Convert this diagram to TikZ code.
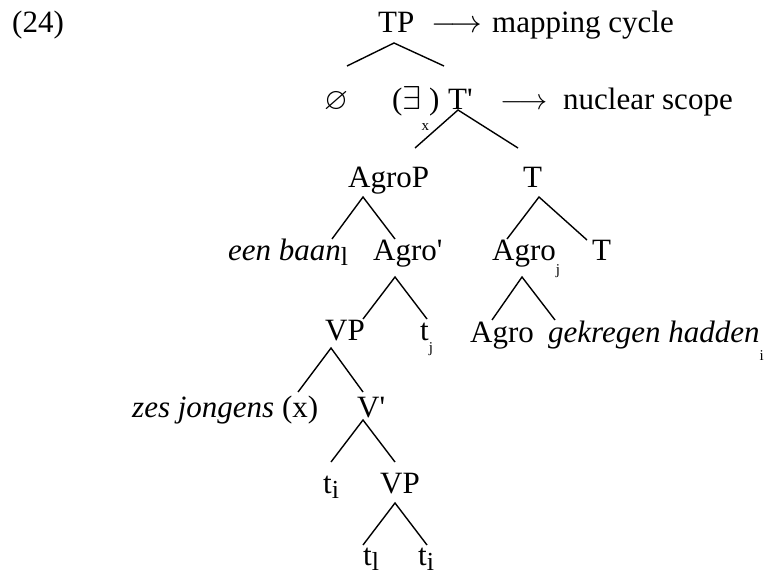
\documentclass[tikz,border=0pt]{standalone}
\usepackage{amssymb}
\usepackage{graphicx}
\usepackage{fontspec}
\setmainfont{Liberation Serif}
\newfontfamily\tnr{Liberation Serif}
\newfontfamily\djs{DejaVu Sans}
\newcommand\sbs[2]{\raisebox{-#1}{\fontsize{15}{15}\selectfont #2}}
\newcommand\trc[1]{\raisebox{-5pt}{\fontsize{26}{26}\selectfont #1}}
\newcommand\arr[1]{\resizebox{#1}{!}{$\longrightarrow$}}
\begin{document}
\begin{tikzpicture}[x=1pt,y=1pt,
  lbl/.style={font=\tnr\fontsize{31}{37}\selectfont, inner sep=0pt, anchor=base west},
  branch/.style={line width=1.4pt}]
\useasboundingbox (0,0) rectangle (774,-575);
% labels
\node[lbl] (ex) at (12,-33) {(24)};
\node[lbl] (tp) at (378,-33) {TP};
\node[lbl] (arrA) at (431,-33) {\arr{51pt}};
\node[lbl] (mc) at (492,-33) {mapping cycle};
\node[lbl] (empty) at (324,-110) {\resizebox{24pt}{!}{$\varnothing$}};
\node[lbl] (exq) at (392,-110) {(\resizebox{19pt}{23pt}{$\exists$}\sbs{21pt}{x})};
\node[lbl] (tbar) at (448,-110) {T\textquotesingle};
\node[lbl] (arrB) at (500,-110) {\arr{47pt}};
\node[lbl] (nsc) at (563,-110) {nuclear scope};
\node[lbl] (agrop) at (348,-188) {AgroP};
\node[lbl] (tnode) at (523,-188) {T};
\node[lbl] (eenbaan) at (228,-260) {\textit{een baan}\trc{l}};
\node[lbl] (agrobar) at (373,-260) {Agro\textquotesingle};
\node[lbl] (agroj) at (492,-260) {Agro\sbs{14pt}{j}};
\node[lbl] (tright) at (592,-260) {T};
\node[lbl] (vpA) at (325,-340) {VP};
\node[lbl] (tj) at (420,-340) {t\sbs{12pt}{j}};
\node[lbl] (agroB) at (470,-342) {Agro};
\node[lbl] (gek) at (548,-342) {\textit{gekregen hadden}\sbs{18pt}{i}};
\node[lbl] (zes) at (132,-417) {\textit{zes jongens} (x)};
\node[lbl] (vbar) at (357,-417) {V\textquotesingle};
\node[lbl] (tiA) at (323,-493) {t\trc{i}};
\node[lbl] (vpB) at (380,-493) {VP};
\node[lbl] (tl) at (363,-565) {t\trc{l}};
\node[lbl] (tiB) at (418,-565) {t\trc{i}};
% branches
\draw[branch] ([shift={(23,44)}]empty.base west) -- ([shift={(16,-10)}]tp.base west) -- ([shift={(-4,44)}]tbar.base west);
\draw[branch] ([shift={(67,40)}]agrop.base west) -- ([shift={(10,0)}]tbar.base west) -- ([shift={(-5,40)}]tnode.base west);
\draw[branch] ([shift={(104,21)}]eenbaan.base west) -- ([shift={(15,-9)}]agrop.base west) -- ([shift={(22,21)}]agrobar.base west);
\draw[branch] ([shift={(15,21)}]agroj.base west) -- ([shift={(16,-9)}]tnode.base west) -- ([shift={(-5,20)}]tright.base west);
\draw[branch] ([shift={(38,21)}]vpA.base west) -- ([shift={(22,-17)}]agrobar.base west) -- ([shift={(7,21)}]tj.base west);
\draw[branch] ([shift={(22,22)}]agroB.base west) -- ([shift={(30,-17)}]agroj.base west) -- ([shift={(7,22)}]gek.base west);
\draw[branch] ([shift={(166,25)}]zes.base west) -- ([shift={(6,-8)}]vpA.base west) -- ([shift={(6,25)}]vbar.base west);
\draw[branch] ([shift={(8,31)}]tiA.base west) -- ([shift={(6,-3)}]vbar.base west) -- ([shift={(15,31)}]vpB.base west);
\draw[branch] ([shift={(0,20)}]tl.base west) -- ([shift={(15,-10)}]vpB.base west) -- ([shift={(9,20)}]tiB.base west);
\end{tikzpicture}
\end{document}
